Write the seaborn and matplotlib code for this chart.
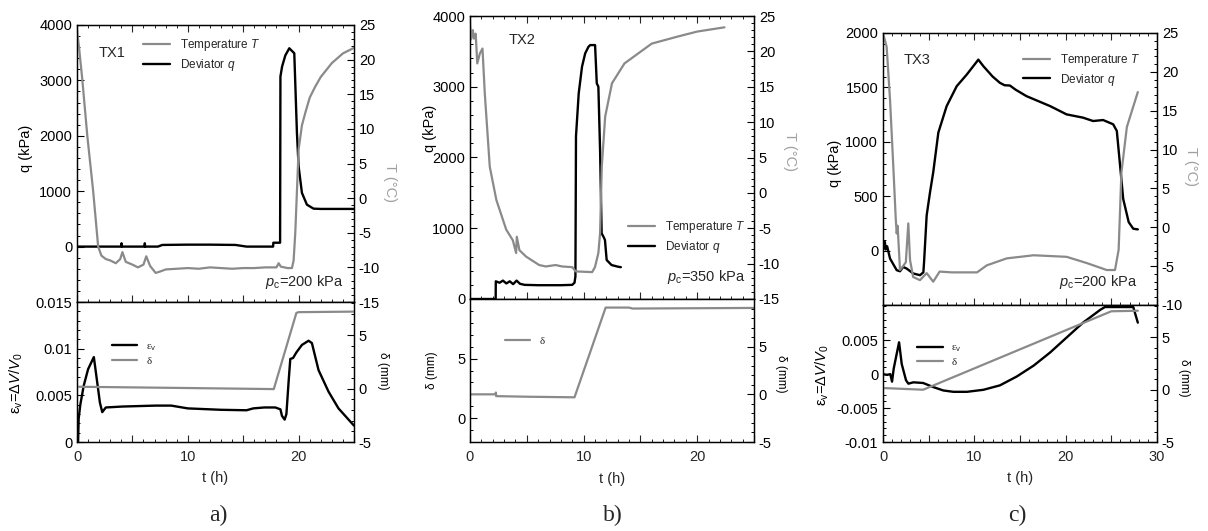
import numpy as np
import matplotlib
matplotlib.use("Agg")
import matplotlib.pyplot as plt
import seaborn as sns
from matplotlib.ticker import MultipleLocator, FuncFormatter

# --------------------------------------------------------------------
# DATA
# --------------------------------------------------------------------
# TX1
tx1_T_t = [0, 0.2, 0.48, 0.93, 1.46, 1.91, 2.2, 2.6, 3.0, 3.5, 3.9, 4.1, 4.4, 5.0, 5.5, 6.0,
           6.25, 6.6, 7.1, 7.5, 8.0, 9, 10, 11, 12, 13, 14, 15, 16, 17, 18, 18.2, 18.4, 19.0,
           19.4, 19.55, 19.7, 19.85, 20.0, 20.3, 20.6, 21.0, 21.5, 22.0, 23.0, 24.0, 25.0]
tx1_T = [24.3, 21.5, 17.1, 9.0, 1.0, -7.0, -8.3, -8.8, -9.0, -9.4, -8.8, -7.8, -9.2, -9.6, -10.0, -9.6,
         -8.4, -9.8, -10.8, -10.6, -10.3, -10.2, -10.1, -10.2, -10.0, -10.1, -10.2, -10.1, -10.1, -10.0, -10.0, -9.4, -9.9, -10.1,
         -10.1, -9.0, -5.0, 1.0, 7.0, 10.5, 12.3, 14.5, 16.1, 17.5, 19.5, 20.9, 21.7]
tx1_q_t = [0, 4.0, 4.02, 4.05, 6.1, 6.12, 6.15, 7.3, 7.7, 10.0, 12.0, 14.3, 15.3, 17.7, 17.72,
           18.33, 18.36, 18.51, 18.8, 19.16, 19.46, 19.61, 19.7, 19.85, 20.0, 20.3, 20.75, 21.35, 22.0, 25.0]
tx1_q = [0, 0, 60, 0, 0, 60, 0, 0, 30, 35, 35, 30, 0, 0, 70,
         70, 3070, 3250, 3450, 3580, 3520, 3490, 2950, 2050, 1450, 970, 757, 685, 680, 680]
tx1_eps_t = [0.1, 0.15, 0.3, 0.6, 1.0, 1.52, 2.07, 2.28, 2.6, 4.1, 7.1, 8.5, 10.0, 13.0, 15.3, 15.9,
             16.9, 17.9, 18.36, 18.5, 18.74, 18.9, 19.1, 19.25, 19.5, 19.8, 20.3, 20.9, 21.2, 21.8,
             22.7, 23.6, 25.0]
tx1_eps = [0, 0.0025, 0.004, 0.006, 0.0078, 0.0091, 0.0042, 0.0032, 0.0037, 0.0038, 0.0039, 0.0039, 0.0036,
           0.00345, 0.0034, 0.0036, 0.0037, 0.0037, 0.0035, 0.0028, 0.0024, 0.0030, 0.0065, 0.0089, 0.0090,
           0.0096, 0.0104, 0.01085, 0.0106, 0.0077, 0.0054, 0.0036, 0.00175]
tx1_d_t = [0, 10, 17.76, 19.8, 20.0, 25]
tx1_d = [0.17, 0.05, -0.05, 7.08, 7.15, 7.2]

# TX2
tx2_T_t = [0, 0.1, 0.25, 0.35, 0.5, 0.64, 0.87, 1.1, 1.3, 1.74, 2.32, 3.19, 3.77, 4.06, 4.12, 4.35,
           4.93, 6.09, 6.67, 7.54, 8.1, 9.0, 9.3, 10.75, 11.0, 11.3, 11.45, 11.6, 11.9, 12.5, 13.6,
           16.0, 18.3, 20.0, 22.4]
tx2_T = [24.0, 21.7, 23.0, 21.8, 22.5, 18.3, 19.7, 20.4, 14.1, 3.7, -1.0, -5.2, -6.7, -8.5, -6.2, -8.1,
         -9.0, -10.2, -10.4, -10.2, -10.4, -10.5, -11.1, -11.2, -10.5, -8.5, -5.7, 3.7, 10.8, 15.5, 18.3,
         21.1, 22.1, 22.8, 23.4]
tx2_q_t = [0, 2.26, 2.27, 2.6, 2.9, 3.2, 3.5, 3.8, 4.1, 4.4, 4.8, 6, 8, 9.0, 9.2, 9.28, 9.33, 9.57,
           9.86, 10.14, 10.43, 10.58, 11.01, 11.16, 11.3, 11.45, 11.59, 11.75, 11.88, 12.03, 12.46,
           13.04, 13.28]
tx2_q = [0, 0, 250, 230, 260, 220, 250, 210, 260, 215, 200, 195, 195, 200, 230, 320, 2300, 2907,
         3283, 3472, 3565, 3589, 3589, 3048, 3000, 2105, 928, 880, 834, 551, 480,
         456, 450]
tx2_d_t = [0, 2.26, 2.28, 2.3, 5, 9.2, 11.94, 14.0, 14.3, 25]
tx2_d = [2.0, 2.0, 2.15, 1.85, 1.8, 1.75, 9.28, 9.28, 9.2, 9.25]

# TX3
tx3_T_t = [0, 0.4, 0.77, 1.13, 1.4, 1.5, 1.6, 1.86, 2.2, 2.5, 2.77, 2.96, 3.3, 4.05, 4.78, 5.5, 6.2,
           7.5, 9.17, 10.3, 11.36, 13.55, 16.5, 20.1, 22.3, 24.5, 25.4, 25.8, 26.1, 26.7, 27.9]
tx3_T = [25.0, 23.2, 16.4, 7.8, 1.0, -0.8, 0.2, -5.5, -5.0, -4.5, 0.5, -4.2, -6.4, -6.8, -5.9, -7.0, -5.7,
         -5.8, -5.8, -5.8, -4.9, -4.0, -3.6, -3.8, -4.6, -5.5, -5.5, -2.9, 7.0, 12.9, 17.4]
tx3_q_t = [0, 0.1, 0.2, 0.3, 0.45, 0.77, 1.5, 1.86, 2.2, 2.59, 3.3, 4.05, 4.42, 4.5, 4.78, 5.15, 5.5,
           6.06, 6.97, 8.07, 9.17, 10.44, 11.0, 12.0, 12.8, 13.3, 13.9, 14.5, 15.7, 18.3, 20.1, 21.9,
           23.0, 24.1, 25.2, 25.6, 25.96, 26.3, 26.9, 27.4, 27.9]
tx3_q = [64, 20, 80, 10, 40, -73, -180, -190, -150, -165, -210, -226, -200, -100, 323, 537, 720,
         1085, 1328, 1511, 1618, 1755, 1694, 1600, 1542, 1520, 1517, 1480, 1420, 1328, 1252, 1222,
         1191, 1200, 1161, 1100, 780, 475, 262, 201, 195]
tx3_eps_t = [0, 0.44, 0.8, 0.99, 1.17, 1.5, 1.76, 2.05, 2.52, 2.78, 3.33, 4.4, 5.5, 6.6, 7.7, 9.2,
             11.0, 12.8, 14.65, 16.5, 18.3, 20.1, 21.9, 23.8, 24.3, 27.4, 27.9]
tx3_eps = [0, -0.0001, 0.0, -0.0011, 0.0008, 0.003, 0.0047, 0.0015, -0.0009, -0.0014, -0.0012, -0.0013,
           -0.0019, -0.0024, -0.0026, -0.0026, -0.0023, -0.00165, -0.00034, 0.00127, 0.0032, 0.0054,
           0.0076, 0.0095, 0.0099, 0.0099, 0.0076]
tx3_d_t = [0, 4.4, 25.0, 27.9]
tx3_d = [0.16, 0.0, 7.5, 7.55]

GREY = "#8a8a8a"
LABEL_GREY = "#a0a0a0"

sns.set_style("ticks")
plt.rcParams["font.family"] = ["Liberation Sans", "DejaVu Sans"]
plt.rcParams["mathtext.fontset"] = "custom"
plt.rcParams["mathtext.rm"] = "Liberation Sans"
plt.rcParams["mathtext.it"] = "Liberation Sans:italic"
plt.rcParams["axes.unicode_minus"] = False
plt.rcParams["axes.linewidth"] = 0.9
plt.rcParams["axes.edgecolor"] = "black"

FS = 10.5


def fmt_g(v, pos):
    return f"{v:g}"


def fmt_tens(v, pos):
    return f"{v:g}" if abs(v % 10) < 1e-9 else ""


def line(ax, t, y, color, lw):
    sns.lineplot(x=t, y=y, ax=ax, color=color, lw=lw, estimator=None, sort=False, legend=False)
    return ax.lines[-1]


def style_y(ax, ticks, minor, lim, side):
    ax.set_ylim(*lim)
    ax.set_yticks(ticks)
    ax.yaxis.set_minor_locator(MultipleLocator(minor))
    ax.yaxis.set_major_formatter(FuncFormatter(fmt_g))
    left = side == "left"
    ax.tick_params(axis="y", which="both", direction="in", left=left, right=not left,
                   labelleft=left, labelright=not left, labelsize=FS, colors="black")
    ax.tick_params(axis="y", which="major", length=5, width=0.8)
    ax.tick_params(axis="y", which="minor", length=2.5, width=0.7)


def style_x(ax, xmax, bottom_panel):
    ax.set_xlim(0, xmax)
    ax.set_xticks(np.arange(0, xmax + 0.1, 5))
    ax.xaxis.set_minor_locator(MultipleLocator(1))
    ax.xaxis.set_major_formatter(FuncFormatter(fmt_tens))
    ax.tick_params(axis="x", which="both", direction="in", bottom=True, top=not bottom_panel,
                   labelbottom=bottom_panel, labelsize=FS)
    ax.tick_params(axis="x", which="major", length=5, width=0.8, pad=6)
    ax.tick_params(axis="x", which="minor", length=2.5, width=0.7)


def ylab(ax, text, x, y, rot=90, color="black", size=FS):
    ax.set_ylabel(text, rotation=rot, color=color, fontsize=size)
    ax.yaxis.label.set_va("center")
    ax.yaxis.label.set_ha("center")
    ax.yaxis.set_label_coords(x, y)


def legend(ax, handles, labels, x, ytop, size, family=None):
    prop = {"size": size}
    if family:
        prop["family"] = family
    ax.legend(handles, labels, loc="upper left", bbox_to_anchor=(x, ytop), frameon=False,
              borderpad=0, borderaxespad=0, handlelength=2.3, handletextpad=0.8,
              labelspacing=0.3, prop=prop)


fig = plt.figure(figsize=(12.08, 5.31), dpi=100)

W, H = 1208, 531


def axes_px(x0, x1, ytop, ybot):
    return fig.add_axes([x0 / W, 1 - ybot / H, (x1 - x0) / W, (ybot - ytop) / H])


panels = [
    dict(name="TX1", xs=(77, 354), top=(25, 302), bot=(302, 442), xmax=25,
         qlim=(-1000, 4000), qticks=[0, 1000, 2000, 3000, 4000], qminor=200,
         Tlim=(-15, 25), Tticks=list(range(-15, 26, 5)), pc="200",
         T=(tx1_T_t, tx1_T), q=(tx1_q_t, tx1_q), eps=(tx1_eps_t, tx1_eps), d=(tx1_d_t, tx1_d),
         elim=(0, 0.015), eticks=[0, 0.005, 0.01, 0.015], dlim=(-5, 8.1),
         tx=(0.128, 0.90), pcpos=(0.96, 0.072), qlab=(-0.184, 0.556), Tlab=(1.13, 0.433),
         elab=(-0.22, 0.42), dlab=(1.105, 0.51), leg_top=(0.238, 0.955), leg_bot=(0.126, 0.72),
         letter="a)", lx=218),
    dict(name="TX2", xs=(470, 754), top=(16, 299), bot=(299, 442), xmax=25,
         qlim=(0, 4000), qticks=[0, 1000, 2000, 3000, 4000], qminor=200,
         Tlim=(-15, 25), Tticks=list(range(-15, 26, 5)), pc="350",
         T=(tx2_T_t, tx2_T), q=(tx2_q_t, tx2_q), eps=None, d=(tx2_d_t, tx2_d),
         elim=(-2, 10), eticks=[0, 5], dlim=(-5, 10),
         tx=(0.185, 0.915), pcpos=(0.968, 0.078), qlab=(-0.141, 0.604), Tlab=(1.127, 0.52),
         elab=(-0.134, 0.50), dlab=(1.095, 0.48), leg_top=(0.556, 0.282), leg_bot=(0.123, 0.74),
         letter="b)", lx=613),
    dict(name="TX3", xs=(883, 1157), top=(33, 305), bot=(305, 442), xmax=30,
         qlim=(-500, 2000), qticks=[0, 500, 1000, 1500, 2000], qminor=100,
         Tlim=(-10, 25), Tticks=list(range(-10, 26, 5)), pc="200",
         T=(tx3_T_t, tx3_T), q=(tx3_q_t, tx3_q), eps=(tx3_eps_t, tx3_eps), d=(tx3_d_t, tx3_d),
         elim=(-0.01, 0.0102), eticks=[-0.01, -0.005, 0, 0.005], dlim=(-5, 8.1),
         tx=(0.126, 0.90), pcpos=(0.927, 0.085), qlab=(-0.175, 0.52), Tlab=(1.124, 0.51),
         elab=(-0.22, 0.49), dlab=(1.10, 0.47), leg_top=(0.511, 0.93), leg_bot=(0.124, 0.725),
         letter="c)", lx=1017),
]

for p in panels:
    x0, x1 = p["xs"]
    ax = axes_px(x0, x1, *p["top"])
    axT = ax.twinx()
    hq = line(ax, *p["q"], "black", 1.7)
    hT = line(axT, *p["T"], GREY, 1.6)
    style_x(ax, p["xmax"], False)
    style_y(ax, p["qticks"], p["qminor"], p["qlim"], "left")
    style_y(axT, p["Tticks"], 1, p["Tlim"], "right")
    ylab(ax, "q (kPa)", *p["qlab"])
    ylab(axT, "T (°C)", *p["Tlab"], rot=270, color=LABEL_GREY)
    ax.text(*p["tx"], p["name"], transform=ax.transAxes, ha="center", va="center", fontsize=FS)
    ax.text(*p["pcpos"], r"$p_{\rm c}$=" + p["pc"] + " kPa", transform=ax.transAxes,
            ha="right", va="center", fontsize=FS)
    legend(axT, [hT, hq], [r"Temperature $T$", r"Deviator $q$"], *p["leg_top"], 8.5)

    axb = axes_px(x0, x1, *p["bot"])
    axd = axb.twinx()
    style_x(axb, p["xmax"], True)
    axd.tick_params(axis="x", which="both", top=False)
    axb.set_xlabel("t (h)", fontsize=FS)
    axb.xaxis.set_label_coords(0.5, -0.21)
    if p["eps"] is not None:
        he = line(axb, *p["eps"], "black", 1.7)
        hd = line(axd, *p["d"], GREY, 1.6)
        style_y(axb, p["eticks"], 0.001, p["elim"], "left")
        ylab(axb, r"ε$_{\rm v}$=Δ$V$/$V_0$", *p["elab"])
        legend(axd, [he, hd], [r"ε$_{\rm v}$", "δ"], *p["leg_bot"], 8, family="Liberation Serif")
    else:
        hd = line(axb, *p["d"], GREY, 1.6)
        style_y(axb, p["eticks"], 1, p["elim"], "left")
        ylab(axb, "δ (mm)", *p["elab"], size=8.5)
        legend(axd, [hd], ["δ"], *p["leg_bot"], 8, family="Liberation Serif")
    style_y(axd, [-5, 0, 5], 1, p["dlim"], "right")
    ylab(axd, "δ (mm)", *p["dlab"], rot=270, size=8.5)
    axb.tick_params(axis="x", top=False)

    fig.text(p["lx"] / W, 1 - 515 / H, p["letter"], ha="center", va="center",
             fontsize=17, family="Liberation Serif")

fig.savefig("out.png", dpi=100)
